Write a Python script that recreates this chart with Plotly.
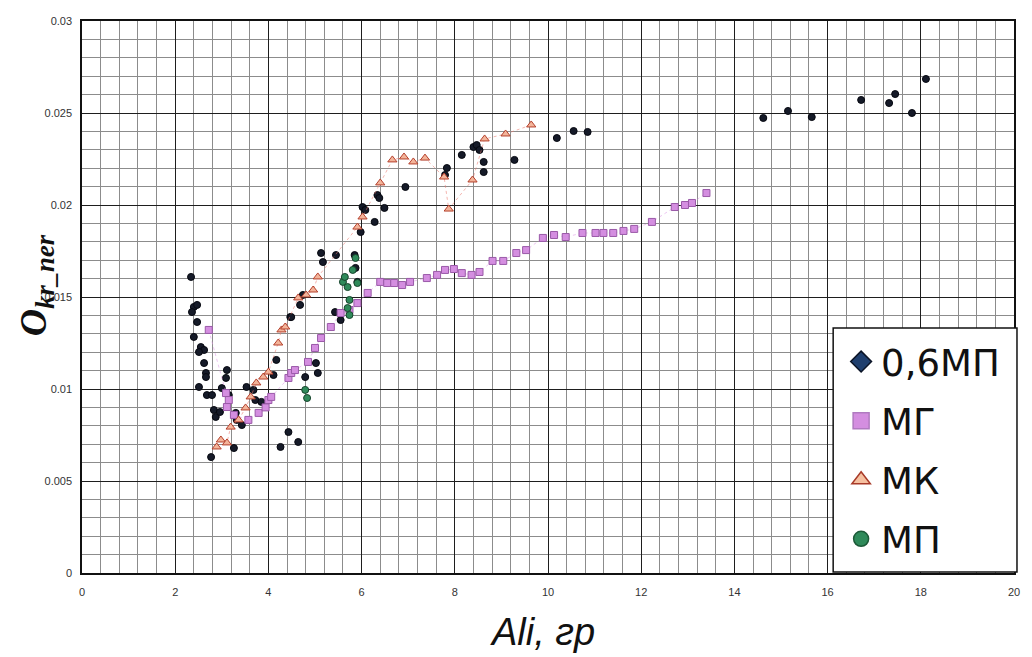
import plotly.graph_objects as go

# ---- data: Ali, гр  vs  O_kr_ner ----
mp06_x = [2.34, 2.40, 2.47, 2.36, 2.47, 2.40, 2.55, 2.62, 2.51, 2.62, 2.66, 2.66, 2.51,
          2.68, 2.79, 2.83, 2.87, 2.96, 3.00, 3.09, 3.11, 3.15, 3.30, 3.32, 3.43, 3.26,
          2.77, 3.53, 3.68, 3.72, 3.85, 4.11, 4.17, 4.47, 4.43, 4.26, 4.64, 5.02, 5.06,
          4.79, 5.43, 5.55, 4.49, 4.68, 4.74, 5.13, 5.17, 5.45, 5.85, 5.87, 5.91, 5.98,
          6.02, 6.08, 6.28, 6.34, 6.38, 6.49, 6.94, 7.83, 7.79, 8.15, 8.40, 8.47, 8.53,
          8.62, 8.62, 9.28, 10.19, 10.55, 10.85,
          14.62, 15.15, 15.66, 16.72, 17.32, 17.45, 17.81, 18.11]
mp06_y = [0.01609, 0.01446, 0.01457, 0.01418, 0.01364, 0.01283, 0.01228, 0.01212, 0.01201,
          0.01141, 0.01087, 0.01065, 0.01011, 0.00967, 0.00967, 0.00886, 0.00848, 0.00875,
          0.01005, 0.01060, 0.01103, 0.00967, 0.00870, 0.00832, 0.00804, 0.00679, 0.00630,
          0.01011, 0.00995, 0.00940, 0.00930, 0.01076, 0.01158, 0.01391, 0.00766, 0.00685,
          0.00712, 0.01141, 0.01087, 0.01065, 0.01418, 0.01375, 0.01391, 0.01457, 0.01511,
          0.01739, 0.01690, 0.01728, 0.01728, 0.01658, 0.01582, 0.01853, 0.01989, 0.01973,
          0.01908, 0.02054, 0.02038, 0.01984, 0.02098, 0.02201, 0.02163, 0.02272, 0.02315,
          0.02326, 0.02299, 0.02234, 0.02179, 0.02245, 0.02364, 0.02402, 0.02397,
          0.02473, 0.02511, 0.02478, 0.02571, 0.02554, 0.02603, 0.02500, 0.02685]

mg_x = [2.72, 3.09, 3.15, 3.11, 3.26, 3.57, 3.79, 3.94, 4.00, 4.06, 4.43, 4.49, 4.57, 4.85,
        5.00, 5.13, 5.34, 5.55, 5.74, 5.91, 6.13, 6.40, 6.55, 6.70, 6.87, 7.04, 7.40, 7.62,
        7.79, 7.98, 8.15, 8.36, 8.53, 8.81, 9.04, 9.32, 9.53, 9.89, 10.13, 10.38, 10.74,
        11.02, 11.19, 11.40, 11.62, 11.85, 12.23, 12.72, 12.94, 13.09, 13.40]
mg_y = [0.01321, 0.00978, 0.00940, 0.00902, 0.00859, 0.00832, 0.00870, 0.00900, 0.00940,
        0.00957, 0.01060, 0.01087, 0.01103, 0.01147, 0.01223, 0.01277, 0.01337, 0.01413,
        0.01429, 0.01467, 0.01522, 0.01582, 0.01576, 0.01576, 0.01565, 0.01582, 0.01603,
        0.01620, 0.01647, 0.01652, 0.01630, 0.01620, 0.01636, 0.01696, 0.01696, 0.01739,
        0.01755, 0.01821, 0.01837, 0.01826, 0.01848, 0.01848, 0.01848, 0.01848, 0.01859,
        0.01870, 0.01908, 0.01989, 0.02000, 0.02011, 0.02065]

mk_x = [2.89, 2.98, 3.11, 3.19, 3.36, 3.51, 3.62, 3.74, 3.89, 4.00, 4.21, 4.28, 4.36, 4.64,
        4.81, 4.96, 5.06, 5.91, 6.02, 6.40, 6.66, 6.91, 7.11, 7.36, 7.77, 7.87, 8.38, 8.64,
        9.09, 9.64]
mk_y = [0.00685, 0.00723, 0.00707, 0.00793, 0.00832, 0.00897, 0.00957, 0.01033, 0.01065,
        0.01092, 0.01250, 0.01321, 0.01337, 0.01495, 0.01511, 0.01538, 0.01609, 0.01880,
        0.01935, 0.02120, 0.02245, 0.02261, 0.02234, 0.02255, 0.02152, 0.01978, 0.02136,
        0.02359, 0.02386, 0.02435]

mp_x = [4.79, 4.83, 5.60, 5.64, 5.70, 5.74, 5.70, 5.74, 5.81, 5.87, 5.91]
mp_y = [0.00995, 0.00951, 0.01582, 0.01609, 0.01554, 0.01484, 0.01440, 0.01402, 0.01647,
        0.01712, 0.01576]

series_names = ["0,6МП", "МГ", "МК", "МП"]

# ---- styles: plotted marker and the larger legend key ----
styles = {
    "0,6МП": dict(symbol="circle", color="#151a28", line="#05070f", size=7,
                  leg_symbol="diamond", leg_color="#1f3f6e", leg_line="#0b1426", leg=20),
    "МГ": dict(symbol="square", color="#d48ee0", line="#9a5aa8", size=7,
               leg_symbol="square", leg_color="#d48ee0", leg_line="#b07ac0", leg=19),
    "МК": dict(symbol="triangle-up", color="#f3b49a", line="#b5402c", size=8,
               leg_symbol="triangle-up", leg_color="#f6c0a0", leg_line="#a83a28", leg=21),
    "МП": dict(symbol="circle", color="#2f8a5a", line="#17442c", size=7,
               leg_symbol="circle", leg_color="#2f8a5a", leg_line="#1d5a38", leg=15),
}
data = {
    "0,6МП": (mp06_x, mp06_y, None),
    "МГ": (mg_x, mg_y, "rgba(222,150,230,0.55)"),
    "МК": (mk_x, mk_y, "rgba(235,120,110,0.55)"),
    "МП": (mp_x, mp_y, None),
}

fig = go.Figure()

for name in series_names:
    xs, ys, lc = data[name]
    st = styles[name]
    if lc:
        fig.add_trace(go.Scatter(x=xs, y=ys, mode="lines", showlegend=False,
                                 line=dict(color=lc, width=1, dash="dot"),
                                 hoverinfo="skip"))
    fig.add_trace(go.Scatter(
        x=xs, y=ys, mode="markers", name=name, showlegend=False,
        marker=dict(symbol=st["symbol"], size=st["size"], color=st["color"],
                    line=dict(color=st["line"], width=1))))

# legend keys
for i, name in enumerate(series_names):
    st = styles[name]
    fig.add_trace(go.Scatter(
        x=[None], y=[None], mode="markers", name=name, legendgroup=f"g{i}",
        marker=dict(symbol=st["leg_symbol"], size=st["leg"], color=st["leg_color"],
                    line=dict(color=st["leg_line"], width=1.5))))

axis_common = dict(
    showline=True, linecolor="#111111", linewidth=1.5, mirror=True,
    showgrid=True, gridcolor="#1e1e1e", gridwidth=1.3,
    zeroline=False, ticks="",
    tickfont=dict(family="Liberation Sans", size=11, color="#333333"),
)

fig.update_xaxes(range=[0, 20], dtick=2, tick0=0,
                 minor=dict(dtick=0.4, showgrid=True, gridcolor="#8c8c8c", gridwidth=1),
                 ticklabelstandoff=8, **axis_common)
fig.update_yaxes(range=[0, 0.03], dtick=0.005, tick0=0,
                 minor=dict(dtick=0.001, showgrid=True, gridcolor="#8c8c8c", gridwidth=1),
                 ticklabelstandoff=6, **axis_common)

# legend frame: plot-area pixels 838..1023 x 328..572
px_l, px_r, px_t, px_b = 82, 1020, 21, 573
def fx(p):
    return (p - px_l) / (px_r - px_l)
def fy(p):
    return (px_b - p) / (px_b - px_t)

fig.update_layout(
    width=1032, height=657,
    margin=dict(l=82, r=12, t=21, b=84),
    paper_bgcolor="white", plot_bgcolor="white",
    shapes=[dict(type="rect", xref="paper", yref="paper",
                 x0=fx(838), x1=fx(1023), y0=fy(572), y1=fy(328),
                 fillcolor="white", line=dict(color="#111111", width=1.5),
                 layer="above")],
    legend=dict(x=fx(846), xanchor="left", y=fy(570), yanchor="bottom",
                bgcolor="rgba(0,0,0,0)", borderwidth=0,
                font=dict(family="DejaVu Sans", size=37, color="#111111"),
                tracegroupgap=8, itemwidth=30),
    annotations=[
        dict(text="O<sub>kr_ner</sub>", xref="paper", yref="paper",
             x=fx(36), y=fy(285), xanchor="center", yanchor="middle",
             textangle=-90, showarrow=False,
             font=dict(family="Liberation Serif", size=38, color="#111111",
                       weight="bold", style="italic")),
        dict(text="Ali, гр", xref="paper", yref="paper",
             x=fx(545), y=fy(632), xanchor="center", yanchor="middle",
             showarrow=False,
             font=dict(family="Liberation Sans", size=38, color="#111111",
                       style="italic")),
    ],
)

fig.write_html("out.html")
